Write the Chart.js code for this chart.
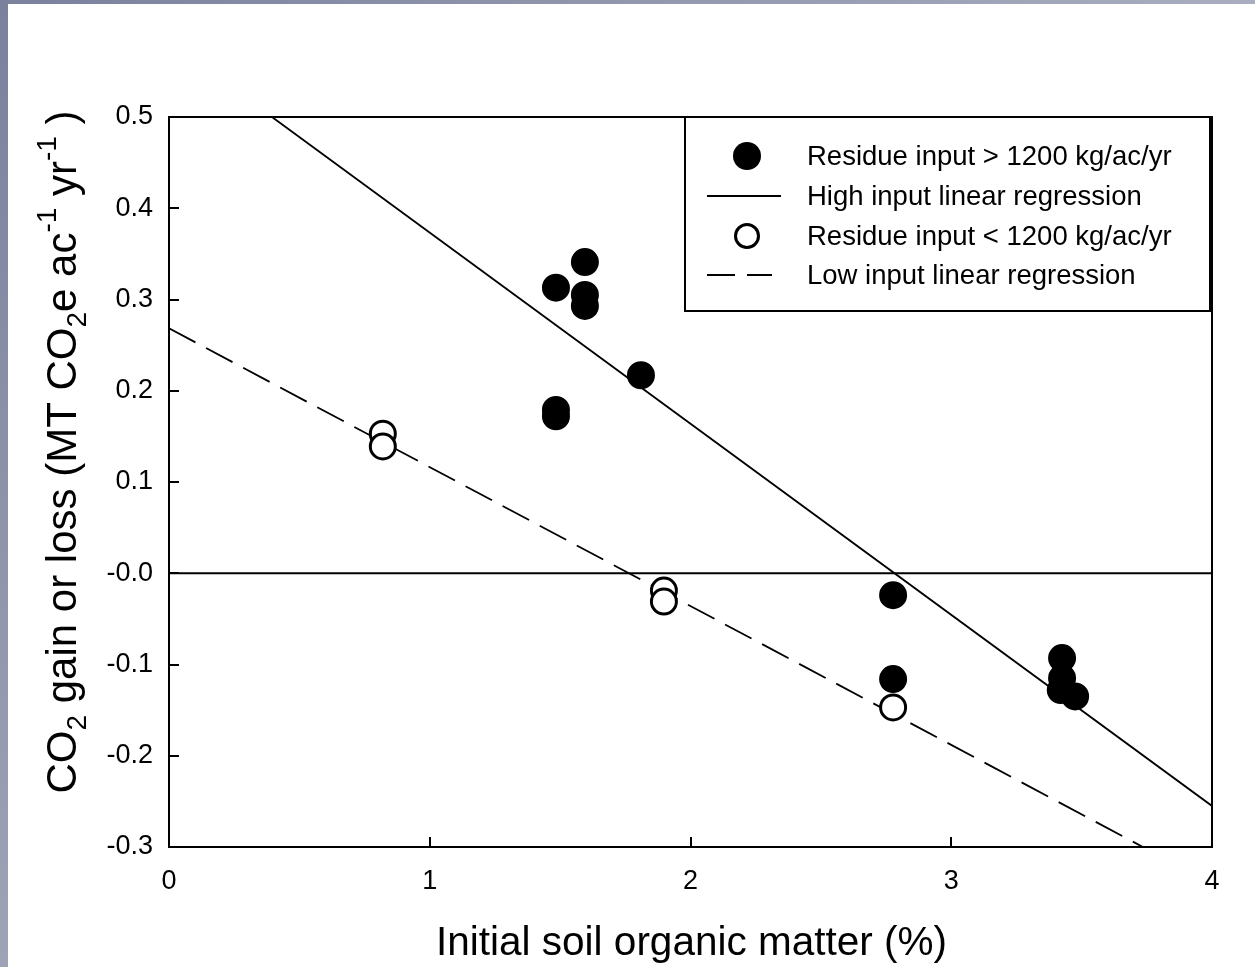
<!DOCTYPE html>
<html><head><meta charset="utf-8">
<script src="https://cdn.jsdelivr.net/npm/chart.js@4.4.0/dist/chart.umd.min.js"></script>
<style>
html,body{margin:0;padding:0;}
body{width:1255px;height:967px;background:#fff;position:relative;overflow:hidden;}
#frameTop{position:absolute;left:0;top:0;width:1255px;height:4px;background:linear-gradient(to right,#7b819d,#a9adbf);}
#frameLeft{position:absolute;left:0;top:0;width:8px;height:967px;background:linear-gradient(to bottom,#7b819d,#9fa3b6);}
#c{position:absolute;left:0;top:0;}
</style></head><body>
<div id="frameTop"></div><div id="frameLeft"></div>
<canvas id="c" width="1255" height="967"></canvas>
<script>
// ---- data ----
const highInputX = [1.484, 1.595, 1.595, 1.595, 1.81, 1.484, 1.484, 2.777, 2.777, 3.425, 3.425, 3.42, 3.475];
const highInputY = [0.313, 0.341, 0.305, 0.293, 0.217, 0.179, 0.172, -0.024, -0.116, -0.093, -0.115, -0.128, -0.135];
const lowInputX = [0.82, 0.82, 1.898, 1.898, 2.777];
const lowInputY = [0.153, 0.139, -0.019, -0.031, -0.147];
const highFitX = [0.395, 4];
const highFitY = [0.5, -0.255];
const lowFitX = [0, 3.735];
const lowFitY = [0.2685, -0.3];
const zeroLineX = [0, 4];
const zeroLineY = [0, 0];
const xTickLabels = ['0', '1', '2', '3', '4'];
const yTickValues = [-0.3, -0.2, -0.1, 0, 0.1, 0.2, 0.3, 0.4, 0.5];
const yTickLabels = ['-0.3', '-0.2', '-0.1', '-0.0', '0.1', '0.2', '0.3', '0.4', '0.5'];
const seriesLabels = ['Residue input > 1200 kg/ac/yr', 'High input linear regression', 'Residue input < 1200 kg/ac/yr', 'Low input linear regression'];
const xTitle = 'Initial soil organic matter (%)';
const yTitleParts = [['CO','n'],['2','sub'],[' gain or loss (MT CO','n'],['2','sub'],['e ac','n'],['-1','sup'],[' yr','n'],['-1','sup'],[' )','n']];

const FONT = '"Liberation Sans", Arial, sans-serif';
const pts = (xs, ys) => xs.map((x, i) => ({x: x, y: ys[i]}));

const decorPlugin = {
  id: 'decor',
  afterDraw(chart) {
    const ctx = chart.ctx, a = chart.chartArea;
    const xs = chart.scales.x, ys = chart.scales.y;
    ctx.save();
    ctx.strokeStyle = '#000';
    ctx.lineWidth = 2;
    ctx.strokeRect(a.left, a.top, a.right - a.left, a.bottom - a.top);
    // inward tick marks
    ctx.beginPath();
    yTickValues.forEach(v => {
      const py = Math.round(ys.getPixelForValue(v));
      ctx.moveTo(a.left, py); ctx.lineTo(a.left + 10, py);
    });
    [1, 2, 3].forEach(v => {
      const px = Math.round(xs.getPixelForValue(v));
      ctx.moveTo(px, a.bottom); ctx.lineTo(px, a.bottom - 10);
    });
    ctx.stroke();
    // x title
    ctx.fillStyle = '#000';
    ctx.font = '40.5px ' + FONT;
    ctx.textAlign = 'center';
    ctx.textBaseline = 'alphabetic';
    ctx.fillText(xTitle, (a.left + a.right) / 2 + 1, 955);
    // y title with sub/superscripts
    const big = '42px ' + FONT, small = '28px ' + FONT;
    let total = 0;
    yTitleParts.forEach(p => { ctx.font = p[1] === 'n' ? big : small; total += ctx.measureText(p[0]).width; });
    ctx.translate(76, 452);
    ctx.rotate(-Math.PI / 2);
    ctx.textAlign = 'left';
    let cx = -total / 2;
    yTitleParts.forEach(p => {
      ctx.font = p[1] === 'n' ? big : small;
      const dy = p[1] === 'sub' ? 10 : (p[1] === 'sup' ? -20 : 0);
      ctx.fillText(p[0], cx, dy);
      cx += ctx.measureText(p[0]).width;
    });
    ctx.restore();
    // legend
    ctx.save();
    const L = 685, T = a.top, R = 1210, B = 311;
    ctx.fillStyle = '#fff';
    ctx.fillRect(L, T, R - L, B - T);
    ctx.strokeStyle = '#000';
    ctx.lineWidth = 2;
    ctx.strokeRect(L, T, R - L, B - T);
    const rows = [156, 196, 236, 275];
    const mx = 747, tx = 807;
    ctx.beginPath(); ctx.arc(mx, rows[0], 14, 0, Math.PI * 2); ctx.fillStyle = '#000'; ctx.fill();
    ctx.beginPath(); ctx.lineWidth = 2; ctx.moveTo(707, rows[1]); ctx.lineTo(781, rows[1]); ctx.stroke();
    ctx.beginPath(); ctx.arc(mx, rows[2], 11.5, 0, Math.PI * 2); ctx.fillStyle = '#fff'; ctx.fill(); ctx.lineWidth = 3; ctx.stroke();
    ctx.beginPath(); ctx.lineWidth = 2; ctx.setLineDash([28, 12]); ctx.moveTo(707, rows[3]); ctx.lineTo(772, rows[3]); ctx.stroke();
    ctx.setLineDash([]);
    ctx.fillStyle = '#000';
    ctx.font = '27.5px ' + FONT;
    ctx.textAlign = 'left';
    ctx.textBaseline = 'middle';
    seriesLabels.forEach((s, i) => ctx.fillText(s, tx, rows[i] + 1));
    ctx.restore();
  }
};

new Chart(document.getElementById('c'), {
  type: 'scatter',
  data: {
    datasets: [
      {label: seriesLabels[0], data: pts(highInputX, highInputY), pointRadius: 13, pointBorderWidth: 2,
       pointBackgroundColor: '#000', pointBorderColor: '#000', showLine: false},
      {label: seriesLabels[2], data: pts(lowInputX, lowInputY), pointRadius: 12.5, pointBorderWidth: 3,
       pointBackgroundColor: '#fff', pointBorderColor: '#000', showLine: false},
      {label: seriesLabels[1], data: pts(highFitX, highFitY), showLine: true, pointRadius: 0,
       borderColor: '#000', borderWidth: 1.8, fill: false},
      {label: seriesLabels[3], data: pts(lowFitX, lowFitY), showLine: true, pointRadius: 0,
       borderColor: '#000', borderWidth: 1.8, borderDash: [30, 12], fill: false},
      {label: 'zero', data: pts(zeroLineX, zeroLineY), showLine: true, pointRadius: 0,
       borderColor: '#000', borderWidth: 2, fill: false}
    ]
  },
  options: {
    responsive: false,
    animation: false,
    devicePixelRatio: 1,
    layout: {padding: {left: 0, top: 117, right: 43, bottom: 0}},
    plugins: {legend: {display: false}, tooltip: {enabled: false}, title: {display: false}},
    scales: {
      x: {
        type: 'linear', min: 0, max: 4,
        grid: {display: false, drawTicks: false}, border: {display: false},
        ticks: {stepSize: 1, color: '#000', font: {size: 27, family: FONT}, padding: 18,
          callback: (v) => xTickLabels[Math.round(v)]},
        afterFit: (s) => { s.height = 120; }
      },
      y: {
        type: 'linear', min: -0.3, max: 0.5,
        grid: {display: false, drawTicks: false}, border: {display: false},
        ticks: {stepSize: 0.1, color: '#000', font: {size: 27, family: FONT}, padding: 16,
          callback: (v) => { const i = yTickValues.findIndex(t => Math.abs(t - v) < 1e-6); return i >= 0 ? yTickLabels[i] : ''; }},
        afterFit: (s) => { s.width = 169; }
      }
    }
  },
  plugins: [decorPlugin]
});
</script>
</body></html>
